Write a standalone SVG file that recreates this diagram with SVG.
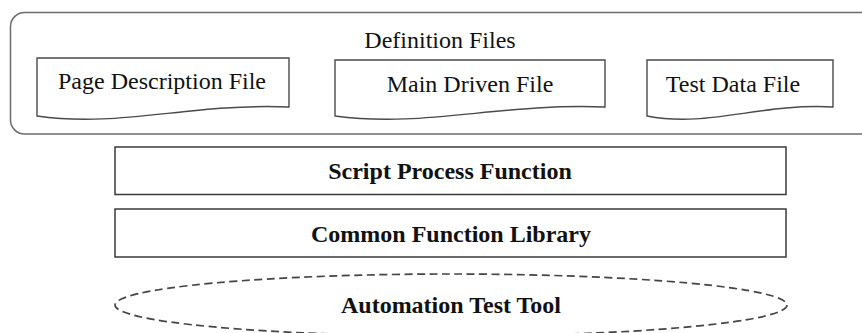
<svg xmlns="http://www.w3.org/2000/svg" width="862" height="333" viewBox="0 0 862 333">
  <style>
    .frame { fill: #fff; stroke: #6b6b6b; stroke-width: 1.5; }
    .doc { fill: #fff; stroke: #4a4a4a; stroke-width: 1.4; }
    .box { fill: #fff; stroke: #3a3a3a; stroke-width: 1.5; }
    .tool { fill: none; stroke: #444; stroke-width: 1.7; stroke-dasharray: 8 4.5; }
    .lbl { font-family: "Liberation Serif", "Times New Roman", serif; font-size: 24px; fill: #111; text-anchor: middle; }
    .bold { font-weight: bold; font-size: 24px; }
  </style>
  <rect width="862" height="333" fill="#fff"/>

  <!-- container for the definition files -->
  <g id="definition-files">
    <rect class="frame" x="10.5" y="12.5" width="880" height="121.5" rx="14" ry="14"/>
    <text class="lbl" x="440" y="48">Definition Files</text>
  </g>

  <g id="page-description-file">
    <path class="doc" d="M37,58 H289 V107 C190,103 120,128 37,116 Z"/>
    <text class="lbl" x="162" y="89">Page Description File</text>
  </g>

  <g id="main-driven-file">
    <path class="doc" d="M335,60 H605 V107 C499,103 424,128 335,116 Z"/>
    <text class="lbl" x="470" y="92">Main Driven File</text>
  </g>

  <g id="test-data-file">
    <path class="doc" d="M647,60 H833 V107 C760,103 708,128 647,116 Z"/>
    <text class="lbl" x="733" y="92">Test Data File</text>
  </g>

  <g id="script-process-function">
    <rect class="box" x="115" y="147" width="671" height="47.5"/>
    <text class="lbl bold" x="450" y="179">Script Process Function</text>
  </g>

  <g id="common-function-library">
    <rect class="box" x="115" y="209" width="671" height="48"/>
    <text class="lbl bold" x="451" y="242">Common Function Library</text>
  </g>

  <g id="automation-test-tool">
    <ellipse class="tool" cx="451" cy="305" rx="336" ry="31"/>
    <text class="lbl bold" x="451" y="313">Automation Test Tool</text>
  </g>

  <g id="connectors"></g>
</svg>
